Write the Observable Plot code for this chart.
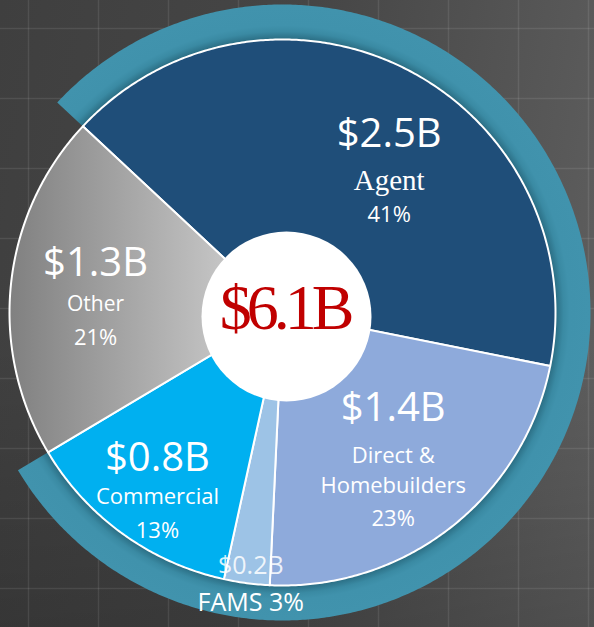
<!DOCTYPE html>
<html><head><meta charset="utf-8">
<script src="https://cdn.jsdelivr.net/npm/d3@7"></script>
<script src="https://cdn.jsdelivr.net/npm/@observablehq/plot@0.6"></script>
<style>
html,body{margin:0;padding:0;background:#3c3c3c;}
#chart{width:594px;height:627px;overflow:hidden;}
svg{display:block;}
</style></head><body><div id="chart"></div>
<script>
// ---- data ----
const categories = ["Agent", "Direct & Homebuilders", "FAMS", "Commercial", "Other"];
const amounts = [2.5, 1.4, 0.2, 0.8, 1.3];
const percents = [41, 23, 3, 13, 21];           // printed (rounded) shares
const shares = [41.2, 22.6, 2.7, 13.0, 20.5];   // unrounded shares
const amountLabels = ["$2.5B", "$1.4B", "$0.2B", "$0.8B", "$1.3B"];
const nameLines = [["Agent"], ["Direct &", "Homebuilders"], ["FAMS"], ["Commercial"], ["Other"]];
const totalLabel = "$6.1B";

// ---- layout / style ----
const W = 594, H = 627;
const CX = 282, CY = 312, R = 273, RING_OUT = 308;
const HOLE = { cx: 286, cy: 316, r: 85 };
const START = 313; // compass degrees where first slice starts
const colors = ["#1f4e79", "#8eaadb", "#9dc3e6", "#00b0f0", "url(#otherGrad)"];
const SANS = "'Open Sans', 'Noto Sans', sans-serif";
const SERIF = "'Liberation Serif', 'DejaVu Serif', serif";
// label block placement (angle in compass degrees, radius) and per line offsets
const labelLayout = [
  { angle: 40, r: 166, dys: [-38, 5, 37], sizes: [40, 29, 22], nameFont: SERIF },
  { angle: 145, r: 193, dys: [-50, -8, 22, 55], sizes: [40, 22, 22, 22], nameFont: SANS },
  { angle: 186.5, r: 280, dys: [-17, 20], sizes: [25, 25], nameFont: SANS },
  { angle: 213.6, r: 226, dys: [-30, 3, 37], sizes: [40, 22, 22], nameFont: SANS },
  { angle: 276.1, r: 188, dys: [-17, 18, 52], sizes: [40, 21, 22], nameFont: SANS }
];

const rad = d => d * Math.PI / 180;
const pt = (cx, cy, r, a) => ({ x: cx + r * Math.sin(rad(a)), y: cy - r * Math.cos(rad(a)) });
function arc(cx, cy, r, a0, a1) {
  const n = Math.max(2, Math.ceil(Math.abs(a1 - a0) / 0.5));
  return d3.range(n + 1).map(i => pt(cx, cy, r, a0 + (a1 - a0) * i / n));
}

const totalShare = d3.sum(shares);
const cum = d3.cumsum(shares);
const slices = categories.map((c, i) => {
  const a0 = START + (cum[i] - shares[i]) / totalShare * 360;
  const a1 = START + cum[i] / totalShare * 360;
  return { cat: c, i, a0, a1, pts: [{ x: CX, y: CY }, ...arc(CX, CY, R, a0, a1), { x: CX, y: CY }] };
});

// ring covers everything except the "Other" slice
const ringA0 = slices[0].a0, ringA1 = slices[3].a1;
const ringPts = [...arc(CX, CY, RING_OUT, ringA0, ringA1), ...arc(CX, CY, R - 2, ringA1, ringA0)];
ringPts.push(ringPts[0]);

// text rows
const textRows = [];
slices.forEach((s, i) => {
  const L = labelLayout[i];
  const c = pt(CX, CY, L.r, L.angle);
  let lines;
  if (i === 2) {
    lines = [[amountLabels[i], SANS], [nameLines[i][0] + " " + percents[i] + "%", SANS]];
  } else {
    lines = [[amountLabels[i], SANS], ...nameLines[i].map(n => [n, L.nameFont]), [percents[i] + "%", SANS]];
  }
  lines.forEach(([t, f], j) => textRows.push({ x: c.x, y: c.y + L.dys[j], text: t, font: f, size: L.sizes[j], op: i === 2 && j === 0 ? 0.85 : 1 }));
});

const gridX = d3.range(28, W, 70);
const gridY = d3.range(28, H, 70);

const marks = [
  Plot.ruleX(gridX, { stroke: "#ffffff", strokeOpacity: 0.09, strokeWidth: 1.5 }),
  Plot.ruleY(gridY, { stroke: "#ffffff", strokeOpacity: 0.09, strokeWidth: 1.5 }),
  Plot.line(ringPts, { x: "x", y: "y", fill: "url(#ringGrad)", stroke: "none", curve: "linear" }),
  ...slices.map(s => Plot.line(s.pts, { x: "x", y: "y", fill: colors[s.i], stroke: "white", strokeWidth: 2, strokeLinejoin: "round", curve: "linear" })),
  Plot.dot([HOLE], { x: "cx", y: "cy", r: HOLE.r, fill: "white", stroke: "none" }),
  ...textRows.map(t => Plot.text([t], { x: "x", y: "y", text: "text", fill: "white", fillOpacity: t.op, fontFamily: t.font, fontSize: t.size, textAnchor: "middle", lineAnchor: "bottom" })),
  Plot.text([totalLabel], { x: () => HOLE.cx - 2, y: () => HOLE.cy + 12, text: d => d, fill: "#c00000", fontFamily: SERIF, fontSize: 64, textAnchor: "middle", lineAnchor: "bottom" })
];

const svg = Plot.plot({
  width: W, height: H, margin: 0,
  x: { domain: [0, W], range: [0, W], axis: null },
  y: { domain: [0, H], range: [0, H], axis: null },
  style: { background: "linear-gradient(to bottom, rgba(0,0,0,0) 55%, rgba(0,0,0,0.18) 100%), linear-gradient(100deg, #3f3f3f 0%, #464646 45%, #575757 80%, #616161 100%)", overflow: "hidden" },
  marks
});

const defs = d3.select(svg).insert("defs", ":first-child");
const g1 = defs.append("linearGradient").attr("id", "otherGrad").attr("gradientUnits", "userSpaceOnUse")
  .attr("x1", CX - R).attr("y1", 0).attr("x2", CX - 55).attr("y2", 0);
g1.append("stop").attr("offset", 0).attr("stop-color", "#808080");
g1.append("stop").attr("offset", 1).attr("stop-color", "#c6c6c6");
const g2 = defs.append("radialGradient").attr("id", "ringGrad").attr("gradientUnits", "userSpaceOnUse")
  .attr("cx", CX).attr("cy", CY).attr("r", RING_OUT);
[[0, "#2a6c82"], [(R) / RING_OUT, "#2a6c82"], [(R + 8) / RING_OUT, "#3a8aa3"], [(R + 14) / RING_OUT, "#4092ac"], [1, "#4193ad"]]
  .forEach(([o, c]) => g2.append("stop").attr("offset", o).attr("stop-color", c));

d3.select(svg).selectAll("text").filter(function () { return this.textContent === totalLabel; })
  .attr("letter-spacing", -5);

document.getElementById("chart").appendChild(svg);
</script>
</body></html>
